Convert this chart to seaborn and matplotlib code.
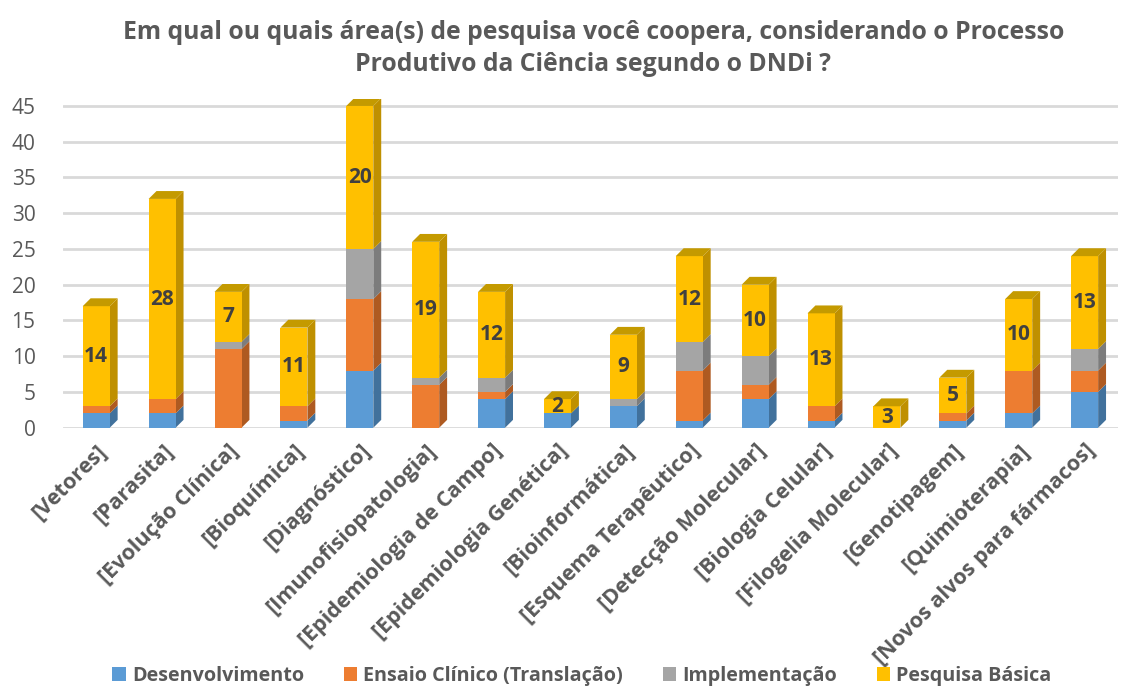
import numpy as np
import pandas as pd
import matplotlib
matplotlib.use("Agg")
import matplotlib.pyplot as plt
from matplotlib.patches import Polygon, Patch
import seaborn as sns

# data
categories = ["[Vetores]", "[Parasita]", "[Evolução Clínica]", "[Bioquímica]",
              "[Diagnóstico]", "[Imunofisiopatologia]", "[Epidemiologia de Campo]",
              "[Epidemiologia Genética]", "[Bioinformática]", "[Esquema Terapêutico]",
              "[Detecção Molecular]", "[Biologia Celular]", "[Filogelia Molecular]",
              "[Genotipagem]", "[Quimioterapia]", "[Novos alvos para fármacos]"]
desenvolvimento = [2, 2, 0, 1, 8, 0, 4, 2, 3, 1, 4, 1, 0, 1, 2, 5]
ensaio_clinico = [1, 2, 11, 2, 10, 6, 1, 0, 0, 7, 2, 2, 0, 1, 6, 3]
implementacao = [0, 0, 1, 0, 7, 1, 2, 0, 1, 4, 4, 0, 0, 0, 0, 3]
pesquisa_basica = [14, 28, 7, 11, 20, 19, 12, 2, 9, 12, 10, 13, 3, 5, 10, 13]

series_names = ["Desenvolvimento", "Ensaio Clínico (Translação)", "Implementação", "Pesquisa Básica"]
series_vals = [desenvolvimento, ensaio_clinico, implementacao, pesquisa_basica]
front_colors = ["#5B9BD5", "#ED7D31", "#A5A5A5", "#FFC000"]
side_colors = ["#41719C", "#AE5A21", "#7C7C7C", "#BF9000"]
top_color = "#C49A00"

sns.set_style("white")
plt.rcParams["font.family"] = ["Open Sans", "DejaVu Sans"]

fig = plt.figure(figsize=(11.3, 6.91), dpi=100)
ax = fig.add_axes([0.056, 0.381, 0.933, 0.476])

stack = np.cumsum(np.array(series_vals), axis=0)
width = 0.41

# overlay trick: tallest cumulative first
for k in range(len(series_names) - 1, -1, -1):
    sns.barplot(x=categories, y=stack[k], color=front_colors[k], width=width,
                saturation=1, ax=ax, zorder=3, order=categories, linewidth=0)

# fake 3D depth from bar geometry
dx, dy = 0.12, 1.1
bottoms = np.vstack([np.zeros(len(categories)), stack[:-1]])
for i in range(len(categories)):
    xr = i + width / 2
    xl = i - width / 2
    for k in range(len(series_names)):
        b, t = bottoms[k][i], stack[k][i]
        if t - b <= 0:
            continue
        ax.add_patch(Polygon([(xr, b), (xr + dx, b + dy), (xr + dx, t + dy), (xr, t)],
                             closed=True, facecolor=side_colors[k], edgecolor="none", zorder=2))
    T = stack[-1][i]
    ax.add_patch(Polygon([(xl, T), (xl + dx, T + dy), (xr + dx, T + dy), (xr, T)],
                         closed=True, facecolor=top_color, edgecolor="none", zorder=3))
    # label on Pesquisa Básica
    yb = (bottoms[-1][i] + stack[-1][i]) / 2
    ax.text(i, yb, str(pesquisa_basica[i]), ha="center", va="center",
            fontsize=15, fontweight="bold", color="#404040", zorder=5)

ax.set_xlim(-0.5, len(categories) - 0.5)
ax.set_ylim(0, 46)
ax.set_yticks(range(0, 46, 5))
ax.yaxis.grid(True, color="#D9D9D9", linewidth=2, zorder=0)
ax.set_axisbelow(True)
for s in ax.spines.values():
    s.set_visible(False)
ax.tick_params(axis="y", labelsize=15, labelcolor="#595959", length=0, pad=20)
ax.tick_params(axis="x", length=0, pad=9)
ax.set_xticks(range(len(categories)))
ax.set_xticklabels(categories, rotation=45, ha="right", rotation_mode="anchor",
                   fontsize=15.5, fontweight="bold", color="#595959")

fig.text(0.525, 0.93, "Em qual ou quais área(s) de pesquisa você coopera, considerando o Processo\n"
         "Produtivo da Ciência segundo o DNDi ?", ha="center", va="center",
         fontsize=17.8, fontweight="bold", color="#595959", linespacing=1.35)

handles = [Patch(facecolor=c, edgecolor="none") for c in front_colors]
leg = fig.legend(handles, series_names, loc="lower center", ncol=4, frameon=False,
                 bbox_to_anchor=(0.515, -0.018), handlelength=0.7, handleheight=0.7,
                 handletextpad=0.3, columnspacing=2.0,
                 prop={"size": 14.2, "weight": "bold"})
for t in leg.get_texts():
    t.set_color("#595959")

fig.savefig("out.png", dpi=100)
